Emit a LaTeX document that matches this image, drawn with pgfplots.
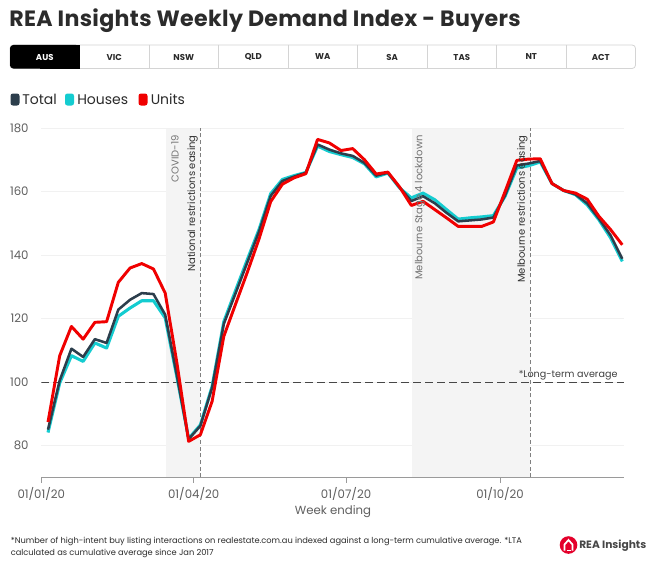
\documentclass[border=0pt]{standalone}
\usepackage{fontspec}
\setmainfont{Poppins}
\usepackage{pgfplots}
\pgfplotsset{compat=1.18}
\usepackage{pgfplotstable}
\definecolor{cTotal}{HTML}{2C3E4C}
\definecolor{cHouses}{HTML}{14CCD0}
\definecolor{cUnits}{HTML}{F00000}
\definecolor{band}{HTML}{F4F4F4}
\definecolor{ticktxt}{HTML}{5F5F5F}
\definecolor{axisgray}{HTML}{9A9A9A}
\definecolor{gridc}{HTML}{F1F1F1}
\definecolor{titlec}{HTML}{2B2B2B}
\definecolor{tabline}{HTML}{D4D4D4}
\definecolor{logored}{HTML}{E4002B}

\pgfplotstableread{
day total houses units
4   85.0  84.1  87.4
11  100.5 99.7  108.3
18  110.5 108.3 117.5
25  107.9 106.5 113.5
32  113.5 112.3 118.8
39  112.3 110.7 119.0
46  122.8 120.7 131.4
53  125.9 123.3 135.9
60  128.0 125.6 137.3
67  127.7 125.6 135.6
74  121.2 120.2 128.0
81  102.0 101.5 106.0
88  82.0  82.2  81.3
95  86.2  86.5  83.4
102 98.2  98.6  93.9
109 118.3 119.0 114.4
116 127.9 128.8 124.5
123 137.6 138.5 134.5
130 147.3 148.0 145.0
137 158.6 159.3 156.8
144 163.3 163.8 162.3
151 164.7 165.0 164.3
158 165.9 166.0 165.6
165 174.8 174.3 176.4
172 173.2 172.6 175.3
179 172.0 171.6 172.9
186 171.2 170.7 173.5
193 169.0 168.7 170.0
200 165.0 164.6 165.5
207 165.9 165.8 166.1
214 161.3 161.1 161.4
221 157.0 158.0 155.6
228 158.5 159.5 156.9
235 156.3 157.4 154.3
242 153.3 154.3 151.7
249 150.6 151.3 149.0
256 150.9 151.7 149.0
263 151.2 152.0 149.0
270 151.8 152.4 150.4
277 158.8 158.5 160.0
284 168.2 167.4 169.8
291 168.8 168.1 170.2
298 169.6 169.3 170.3
305 162.5 162.5 162.5
312 160.3 160.3 160.3
319 159.1 159.0 159.5
326 156.3 155.8 157.6
333 151.5 151.1 152.2
340 146.2 145.4 148.0
347 138.8 138.0 143.2
}\data

\begin{document}
\begin{tikzpicture}
\begin{scope}[x=0.75pt,y=-0.75pt]
\fill[white] (0,0) rectangle (666,567);
% title
\node[anchor=base west, inner sep=0, text=titlec] at (9,26.5) {\fontsize{16.6pt}{18pt}\selectfont\bfseries\addfontfeatures{LetterSpace=1.5} REA Insights Weekly Demand Index - Buyers};
% tabs
\draw[tabline, line width=0.6pt, rounded corners=2.5pt] (10,45) rectangle (635.5,68.5);
\fill[black, rounded corners=2.5pt] (10,45) rectangle (79.5,68.5);
\fill[black] (40,45) rectangle (79.5,68.5);
\foreach \i in {2,...,8} {\draw[tabline, line width=0.6pt] ({10+69.5*\i},45) -- ({10+69.5*\i},68.5);}
\foreach \lab [count=\i] in {AUS,VIC,NSW,QLD,WA,SA,TAS,NT,ACT} {
  \ifnum\i=1
    \node[text=white, inner sep=0] at ({10+69.5*(\i-0.5)},57) {\fontsize{6.4pt}{7pt}\selectfont\bfseries \lab};
  \else
    \node[text=titlec, inner sep=0] at ({10+69.5*(\i-0.5)},57) {\fontsize{6.4pt}{7pt}\selectfont\bfseries \lab};
  \fi
}
% legend
\fill[cTotal, rounded corners=1.8pt] (10.5,93.5) rectangle (19.5,105.5);
\node[anchor=base west, inner sep=0, text=titlec] at (22,104.5) {\fontsize{10.5pt}{12pt}\selectfont Total};
\fill[cHouses, rounded corners=1.8pt] (65,93.5) rectangle (74,105.5);
\node[anchor=base west, inner sep=0, text=titlec] at (77,104.5) {\fontsize{10.5pt}{12pt}\selectfont Houses};
\fill[cUnits, rounded corners=1.8pt] (138.5,93.5) rectangle (147.5,105.5);
\node[anchor=base west, inner sep=0, text=titlec] at (150.5,104.5) {\fontsize{10.5pt}{12pt}\selectfont Units};
\end{scope}

\begin{axis}[
  at={(30.975pt,-357.975pt)}, anchor=south west,
  scale only axis, width=437pt, height=262pt,
  xmin=0, xmax=348, ymin=70, ymax=180,
  axis x line*=bottom, axis y line*=left,
  y axis line style={draw=none},
  x axis line style={draw=axisgray, line width=0.75pt},
  xtick={0,91,182,274},
  xticklabels={01/01/20,01/04/20,01/07/20,01/10/20},
  ytick={80,100,...,180},
  ymajorgrids, grid style={draw=gridc, line width=0.6pt},
  tick align=outside,
  xtick style={draw=axisgray, line width=0.75pt},
  major tick length=4pt,
  ytick style={draw=none},
  tick label style={font=\fontsize{8.8pt}{10pt}\selectfont, text=ticktxt},
  /pgf/number format/assume math mode=true,
  yticklabel style={xshift=-2pt},
]
\fill[band] (axis cs:74.5,70) rectangle (axis cs:95,180);
\fill[band] (axis cs:221.2,70) rectangle (axis cs:292,180);
\draw[gridc, line width=0.6pt] (axis cs:0,180) -- (axis cs:348,180);
\draw[black!72, dash pattern=on 5.5pt off 3.5pt, line width=0.8pt] (axis cs:0,100) -- (axis cs:348,100);
\draw[black!50, dash pattern=on 3pt off 2pt, line width=0.7pt] (axis cs:95,70) -- (axis cs:95,180);
\draw[black!50, dash pattern=on 3pt off 2pt, line width=0.7pt] (axis cs:292,70) -- (axis cs:292,180);
\addplot[cHouses, line width=2.3pt, line join=round] table[x=day, y=houses] {\data};
\addplot[cTotal, line width=1.9pt, line join=round] table[x=day, y=total] {\data};
\addplot[cUnits, line width=2.2pt, line join=round] table[x=day, y=units] {\data};
\end{axis}

\begin{scope}[x=0.75pt,y=-0.75pt]
% annotations
\node[rotate=90, anchor=east, inner sep=0, text=black!55] at (175,135) {\fontsize{7.5pt}{8pt}\selectfont COVID-19};
\node[rotate=90, anchor=east, inner sep=0, text=black!80] at (192.7,135) {\fontsize{7.5pt}{8pt}\selectfont National restrictions easing};
\node[rotate=90, anchor=east, inner sep=0, text=black!55] at (420,135) {\fontsize{7.5pt}{8pt}\selectfont Melbourne Stage 4 lockdown};
\node[rotate=90, anchor=east, inner sep=0, text=black!80] at (522.3,135) {\fontsize{7.5pt}{8pt}\selectfont Melbourne restrictions easing};
\node[anchor=base west, inner sep=0, text=black!75] at (518.5,377) {\fontsize{7.2pt}{8pt}\selectfont *Long-term average};
% x label
\node[inner sep=0, text=ticktxt] at (333,511.7) {\fontsize{8.8pt}{10pt}\selectfont Week ending};
% footnote
\node[anchor=base west, inner sep=0, text=titlec] at (10.5,543.5) {\fontsize{6.2pt}{7pt}\selectfont *Number of high-intent buy listing interactions on realestate.com.au indexed against a long-term cumulative average. *LTA};
\node[anchor=base west, inner sep=0, text=titlec] at (10.5,555.5) {\fontsize{6.2pt}{7pt}\selectfont calculated as cumulative average since Jan 2017};
% logo
\fill[logored] (568.5,545) circle (8.8);
\draw[white, line width=1.3pt, line join=miter] (564.5,550.5) -- (564.5,544.5) -- (568.5,540) -- (572.5,544.5) -- (572.5,550.5);
\draw[white, line width=1.1pt] (566.5,550.5) -- (570.5,550.5);
\node[anchor=west, inner sep=0, text=black!72] at (579,545.5) {\fontsize{8pt}{9pt}\selectfont\bfseries REA Insights};
\end{scope}
\end{tikzpicture}
\end{document}
